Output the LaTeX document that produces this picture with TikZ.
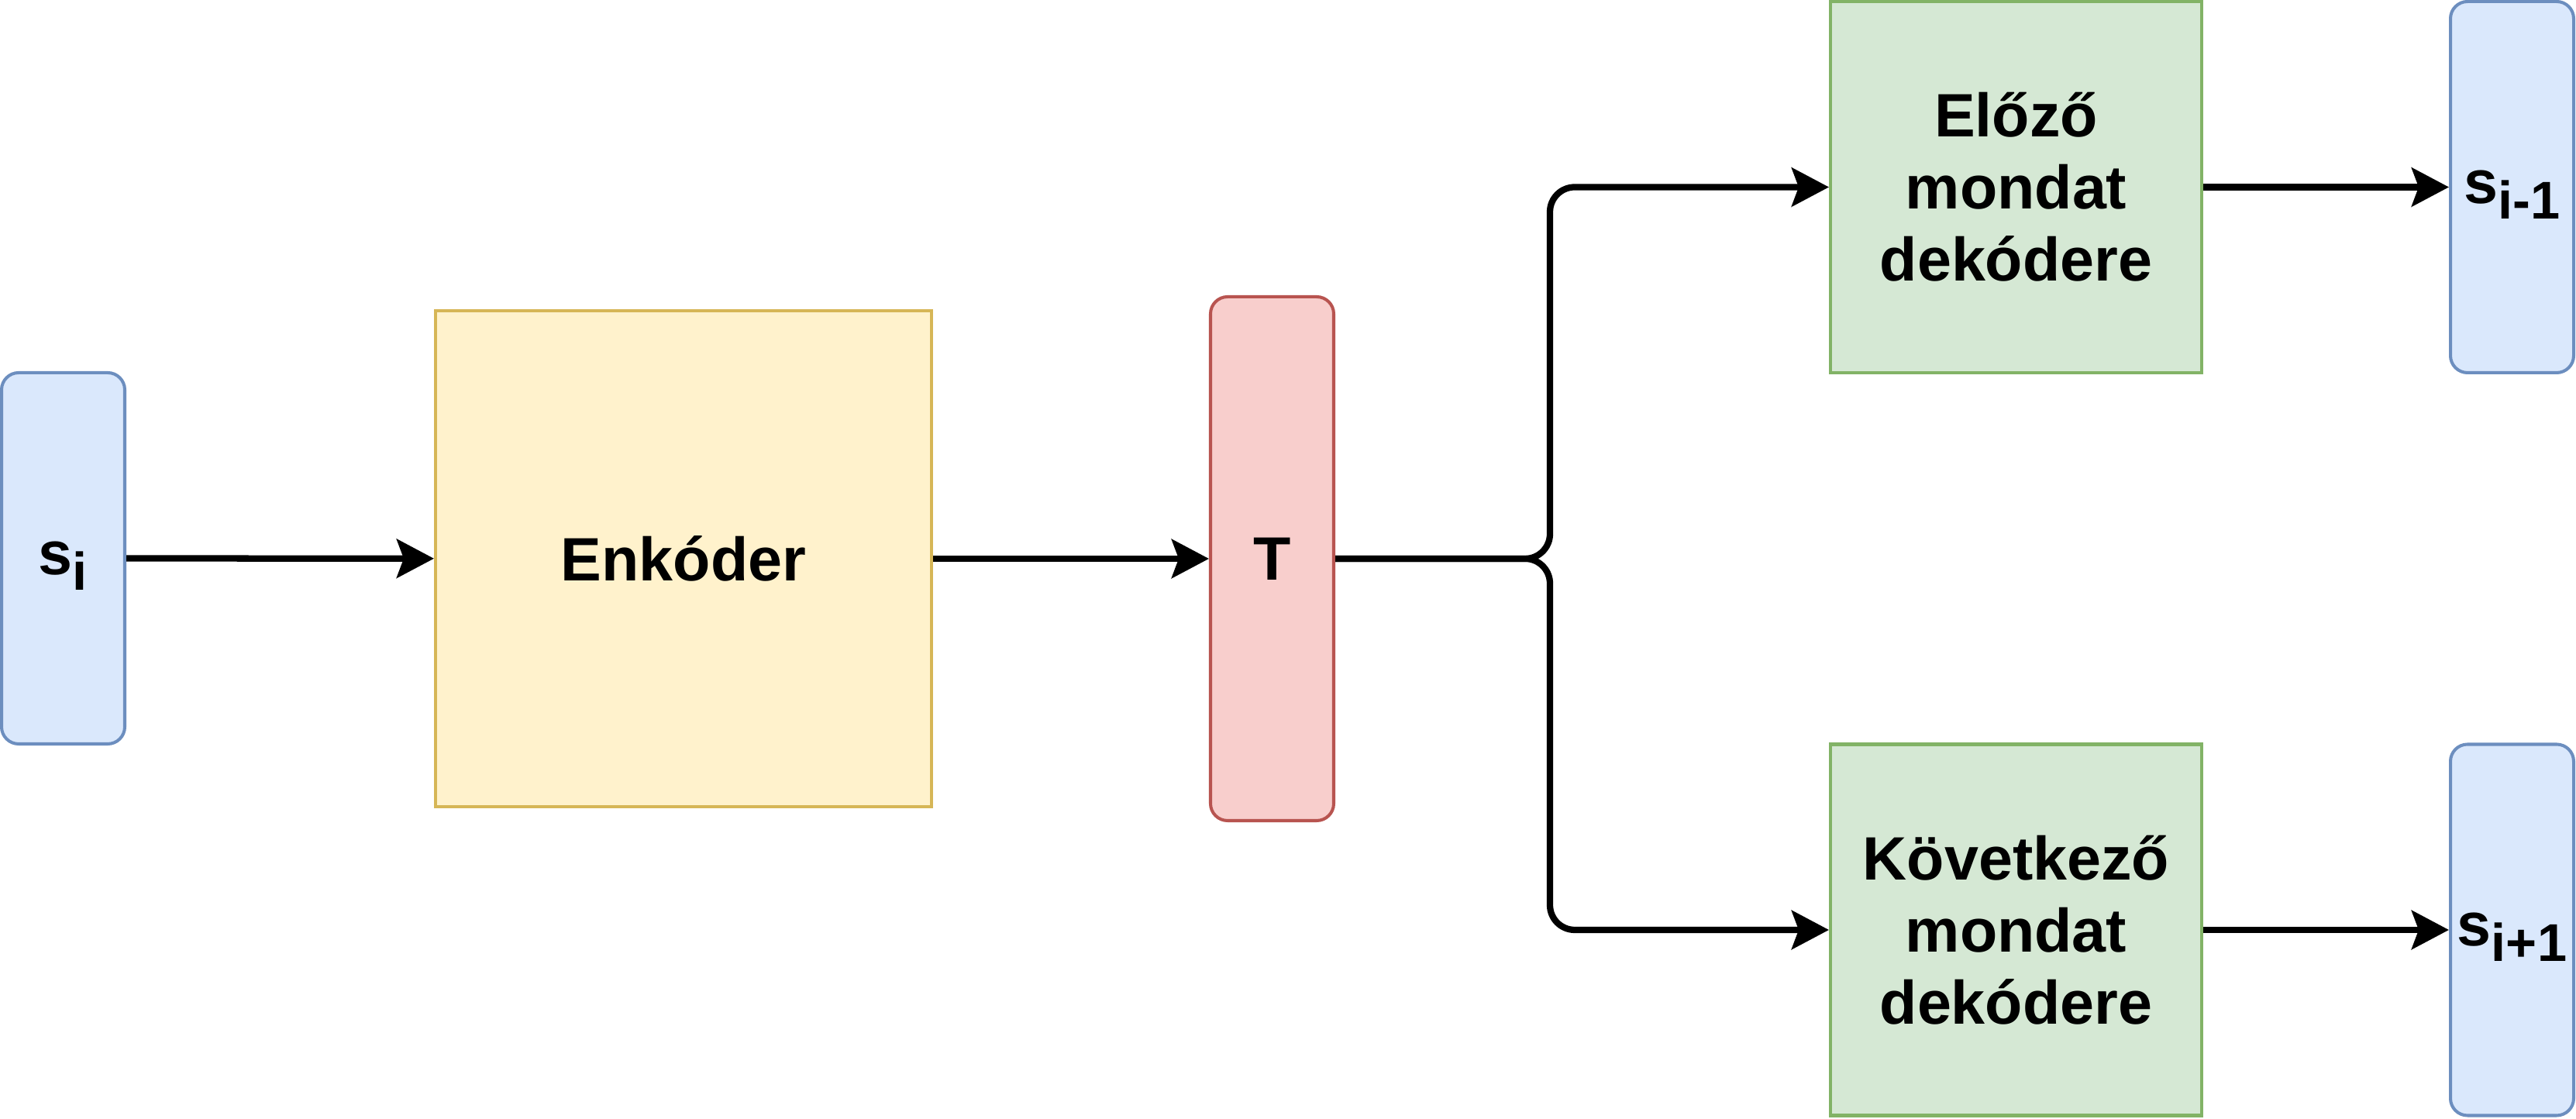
\documentclass[tikz,border=0pt]{standalone}
\usepackage{fontspec}
\setmainfont{Liberation Sans}
\usepackage{tikz}
\usetikzlibrary{arrows.meta,positioning,calc}
\definecolor{vecFill}{HTML}{DAE8FC}
\definecolor{vecLine}{HTML}{6C8EBF}
\definecolor{encFill}{HTML}{FFF2CC}
\definecolor{encLine}{HTML}{D6B656}
\definecolor{thFill}{HTML}{F8CECC}
\definecolor{thLine}{HTML}{B85450}
\definecolor{decFill}{HTML}{D5E8D4}
\definecolor{decLine}{HTML}{82B366}
\newcommand{\sbx}[1]{\raisebox{-0.25em}[0pt][0pt]{\fontsize{19.5}{19.5}\selectfont #1}}

\tikzset{
  box/.style={draw, line width=1.15pt, inner sep=0pt, align=center,
    font=\bfseries\fontsize{22.5}{26.5}\selectfont},
  vecbox/.style={box, rounded corners=0.22cm, fill=vecFill, draw=vecLine,
    minimum width=1.59cm, minimum height=4.79cm},
  decbox/.style={box, fill=decFill, draw=decLine,
    minimum width=4.79cm, minimum height=4.79cm},
  link/.style={-{Stealth[length=0.48cm,width=0.50cm,inset=0.09cm]}, line width=2.35pt}
}

\begin{document}
\begin{tikzpicture}
  \useasboundingbox (0,0) rectangle (33.24,14.44);

  % Input sentence and encoder
  \node[vecbox] (si) at (0.815,7.235) {s\sbx{i}};
  \node[box, fill=encFill, draw=encLine, minimum width=6.40cm, minimum height=6.40cm]
    (enc) at (8.82,7.23) {Enkóder};

  % Thought vector
  \node[box, rounded corners=0.22cm, fill=thFill, draw=thLine,
    minimum width=1.59cm, minimum height=6.76cm] (T) at (16.415,7.23) {T};

  % Decoders
  \node[decbox] (prev) at (26.015,12.025) {Előző\\mondat\\dekódere};
  \node[decbox] (next) at (26.015,2.44) {Következő\\mondat\\dekódere};

  % Outputs
  \node[vecbox] (sprev) at (32.415,12.025) {s\sbx{i-1}};
  \node[vecbox] (snext) at (32.415,2.44) {s\sbx{i+1}};

  % Connectors
  \coordinate (split) at (20.0,7.23);
  \draw[link] (si) -- (enc);
  \draw[link] (enc) -- (T);
  \draw[link, rounded corners=0.32cm] (T.east) -- (split) |- (prev.west);
  \draw[link, rounded corners=0.32cm] (T.east) -- (split) |- (next.west);
  \draw[link] (prev) -- (sprev);
  \draw[link] (next) -- (snext);
\end{tikzpicture}
\end{document}
